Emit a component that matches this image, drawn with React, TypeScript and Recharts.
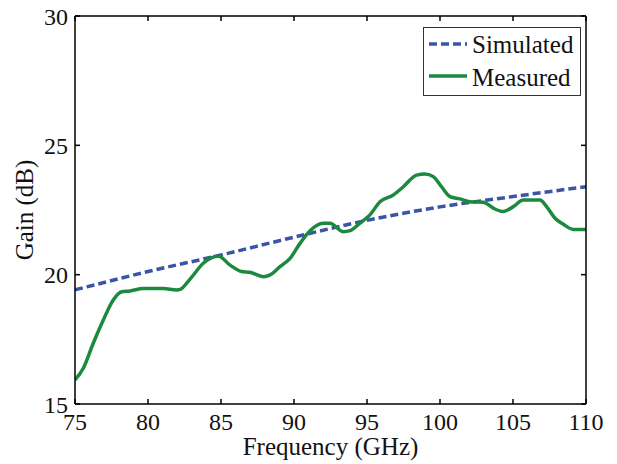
import React from 'react';
import { LineChart, Line, XAxis, YAxis, Legend } from 'recharts';

const xTicks = [75, 80, 85, 90, 95, 100, 105, 110];
const yTicks = [15, 20, 25, 30];
const seriesNames = ['Simulated', 'Measured'];

const simulated = [
  { f: 75, g: 19.41 },
  { f: 80, g: 20.12 },
  { f: 85, g: 20.76 },
  { f: 90, g: 21.45 },
  { f: 95, g: 22.1 },
  { f: 100, g: 22.62 },
  { f: 105, g: 23.02 },
  { f: 110, g: 23.4 },
];

const measured = [
  { f: 75, g: 15.93 },
  { f: 75.57, g: 16.38 },
  { f: 76.25, g: 17.35 },
  { f: 76.94, g: 18.25 },
  { f: 77.62, g: 19.02 },
  { f: 78.2, g: 19.34 },
  { f: 78.77, g: 19.37 },
  { f: 79.68, g: 19.47 },
  { f: 81.05, g: 19.47 },
  { f: 81.96, g: 19.41 },
  { f: 82.2, g: 19.43 },
  { f: 82.88, g: 19.83 },
  { f: 83.79, g: 20.44 },
  { f: 84.82, g: 20.72 },
  { f: 85.62, g: 20.37 },
  { f: 86.42, g: 20.12 },
  { f: 86.99, g: 20.09 },
  { f: 87.9, g: 19.92 },
  { f: 88.36, g: 19.99 },
  { f: 89.04, g: 20.31 },
  { f: 89.73, g: 20.63 },
  { f: 90.41, g: 21.21 },
  { f: 91.1, g: 21.7 },
  { f: 92.0, g: 21.99 },
  { f: 92.47, g: 21.99 },
  { f: 93.38, g: 21.66 },
  { f: 93.84, g: 21.7 },
  { f: 94.52, g: 21.99 },
  { f: 95.2, g: 22.31 },
  { f: 95.89, g: 22.82 },
  { f: 96.8, g: 23.08 },
  { f: 97.49, g: 23.4 },
  { f: 98.4, g: 23.85 },
  { f: 98.97, g: 23.89 },
  { f: 99.54, g: 23.79 },
  { f: 100.1, g: 23.4 },
  { f: 100.68, g: 23.02 },
  { f: 101.37, g: 22.93 },
  { f: 102.05, g: 22.82 },
  { f: 102.97, g: 22.8 },
  { f: 103.65, g: 22.57 },
  { f: 104.34, g: 22.44 },
  { f: 105.02, g: 22.63 },
  { f: 105.71, g: 22.89 },
  { f: 106.85, g: 22.89 },
  { f: 107.3, g: 22.63 },
  { f: 107.88, g: 22.18 },
  { f: 108.45, g: 21.95 },
  { f: 109.13, g: 21.75 },
  { f: 110, g: 21.75 },
];

const FONT = 'serif';
const SIM_COLOR = '#3a54a6';
const MEAS_COLOR = '#1b8a3e';
const seriesColors = [SIM_COLOR, MEAS_COLOR];
const seriesDash = ['8 4', undefined];

const tickStyle = { fontFamily: FONT, fontSize: 24, fill: '#111' };
const titleStyle = { fontFamily: FONT, fontSize: 25, fill: '#111' };

const LegendBox = () => (
  <svg width={158} height={69} style={{ display: 'block' }}>
    <rect x={0.5} y={0.5} width={157} height={68} fill="#fff" stroke="#333" strokeWidth={1} />
    {seriesNames.map((name, i) => (
      <g key={name}>
        <line
          x1={6}
          x2={44}
          y1={17 + i * 32}
          y2={17 + i * 32}
          stroke={seriesColors[i]}
          strokeWidth={3.5}
          strokeDasharray={seriesDash[i]}
        />
        <text x={49} y={26 + i * 33} style={titleStyle}>
          {name}
        </text>
      </g>
    ))}
  </svg>
);

const YLabel = () => (
  <text
    x={33}
    y={210}
    transform="rotate(-90 33 210)"
    textAnchor="middle"
    style={titleStyle}
  >
    Gain (dB)
  </text>
);

export default function App() {
  return (
    <div style={{ position: 'absolute', left: 0, top: 0 }}>
      <LineChart
        width={617}
        height={464}
        margin={{ top: 16, right: 31, bottom: 0, left: 0 }}
      >
        <XAxis
          dataKey="f"
          type="number"
          domain={[75, 110]}
          ticks={xTicks}
          allowDataOverflow
          height={60}
          tickSize={-5}
          tickMargin={14}
          tick={tickStyle}
          stroke="#000"
          strokeWidth={1.5}
          label={{
            value: 'Frequency (GHz)',
            position: 'insideBottom',
            offset: 9,
            style: titleStyle,
          }}
        />
        <XAxis
          xAxisId="top"
          orientation="top"
          dataKey="f"
          type="number"
          domain={[75, 110]}
          ticks={xTicks}
          allowDataOverflow
          mirror
          height={30}
          tickSize={5}
          tickFormatter={() => ''}
          stroke="#000"
          strokeWidth={1.5}
        />
        <YAxis
          type="number"
          domain={[15, 30]}
          ticks={yTicks}
          allowDataOverflow
          width={75}
          tickSize={-5}
          tickMargin={12}
          tick={tickStyle}
          stroke="#000"
          strokeWidth={1.5}
          label={<YLabel />}
        />
        <YAxis
          yAxisId="right"
          orientation="right"
          type="number"
          domain={[15, 30]}
          ticks={yTicks}
          allowDataOverflow
          mirror
          width={40}
          tickSize={5}
          tickFormatter={() => ''}
          stroke="#000"
          strokeWidth={1.5}
        />
        <Legend
          layout="horizontal"
          verticalAlign="middle"
          align="center"
          wrapperStyle={{ position: 'absolute', left: 423, top: 27, width: 158, height: 69 }}
          content={<LegendBox />}
        />
        <Line
          data={simulated}
          dataKey="g"
          xAxisId="top"
          yAxisId="right"
          stroke="none"
          legendType="none"
          dot={false}
          activeDot={false}
          isAnimationActive={false}
        />
        <Line
          data={simulated}
          dataKey="g"
          name={seriesNames[0]}
          type="monotone"
          stroke={SIM_COLOR}
          strokeWidth={3.5}
          strokeDasharray="8 4"
          dot={false}
          activeDot={false}
          isAnimationActive={false}
        />
        <Line
          data={measured}
          dataKey="g"
          name={seriesNames[1]}
          type="monotone"
          stroke={MEAS_COLOR}
          strokeWidth={3.5}
          dot={false}
          activeDot={false}
          isAnimationActive={false}
        />
      </LineChart>
    </div>
  );
}
